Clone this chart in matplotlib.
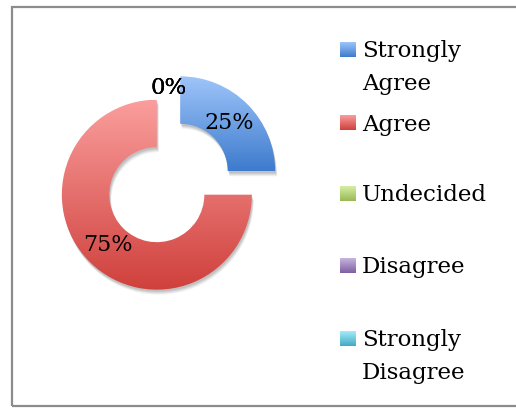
import numpy as np
import matplotlib.pyplot as plt
from matplotlib.patches import Rectangle
from matplotlib.colors import LinearSegmentedColormap

labels = ['Strongly\nAgree', 'Agree', 'Undecided', 'Disagree', 'Strongly\nDisagree']
values = [25, 75, 0, 0, 0]
top_colors = ['#9fc5fa', '#fa9e9d', '#d7eea4', '#c6b5e0', '#a3ecfa']
bottom_colors = ['#3d7bcd', '#cf3f3b', '#98b954', '#7d5fa0', '#42a9c4']

W, H = 516, 410
plt.rcParams['font.family'] = ['DejaVu Serif']

fig = plt.figure(figsize=(W / 100, H / 100), dpi=100)
ax = fig.add_axes([0, 0, 1, 1])
ax.axis('off')

cx, cy = 168.5, H - 184
R = 95
expl = 16.5


def grad_fill(patch, c_top, c_bot, y0, y1, x0, x1):
    cmap = LinearSegmentedColormap.from_list('g', [c_bot, c_top])
    img = np.linspace(0, 1, 256).reshape(-1, 1)
    im = ax.imshow(img, cmap=cmap, extent=[x0, x1, y0, y1], origin='lower',
                   aspect='auto', zorder=3)
    im.set_clip_path(patch)


# soft shadow under the ring
for k, a in [(5, 0.05), (4, 0.06), (3, 0.07), (2, 0.08)]:
    sw, _ = ax.pie(values, radius=R, center=(cx + k * 0.4, cy - k),
                   explode=[expl] * len(values), startangle=90, counterclock=False,
                   wedgeprops=dict(width=R * 0.5, fc='black', ec='none', alpha=a))
    for w in sw:
        w.set_zorder(1)

wedges, _, autotexts = ax.pie(values, radius=R, center=(cx, cy),
                              explode=[expl] * len(values), startangle=90,
                              counterclock=False, autopct='%1.0f%%', pctdistance=0.73,
                              wedgeprops=dict(width=R * 0.5, fc='none', ec='none'),
                              textprops=dict(fontsize=16, color='black', zorder=6))
ax.set_xlim(0, W)
ax.set_ylim(0, H)
ax.set_aspect('auto')

# frame around the chart (right side runs off the image)
ax.add_patch(Rectangle((11.5, 3), W + 60, H - 10.5, fill=False, ec='#8c8c8c',
                       lw=1.6, clip_on=False))

for i, w in enumerate(wedges):
    if values[i] > 0:
        verts = w.get_path().vertices
        x0, x1 = verts[:, 0].min(), verts[:, 0].max()
        y0, y1 = verts[:, 1].min(), verts[:, 1].max()
        grad_fill(w, top_colors[i], bottom_colors[i], y0, y1, x0, x1)
    else:
        th = np.deg2rad((w.theta1 + w.theta2) / 2)
        autotexts[i].set_position((cx + 1.01 * R * np.cos(th), cy + 1.01 * R * np.sin(th)))
        autotexts[i].set_fontsize(16.5)

# legend drawn by hand so the entries are evenly spaced
leg_y = [50, 123.5, 194.5, 266.5, 339.5]
for i, lab in enumerate(labels):
    y = H - leg_y[i]
    sq = Rectangle((340, y - 7.5), 15.5, 15, fc='none', ec='none')
    ax.add_patch(sq)
    grad_fill(sq, top_colors[i], bottom_colors[i], y - 7.5, y + 7.5, 340, 355.5)
    ax.text(362, y + 10, lab, fontsize=16.5, va='top', ha='left', linespacing=1.62)

fig.savefig('out.png', dpi=100)
